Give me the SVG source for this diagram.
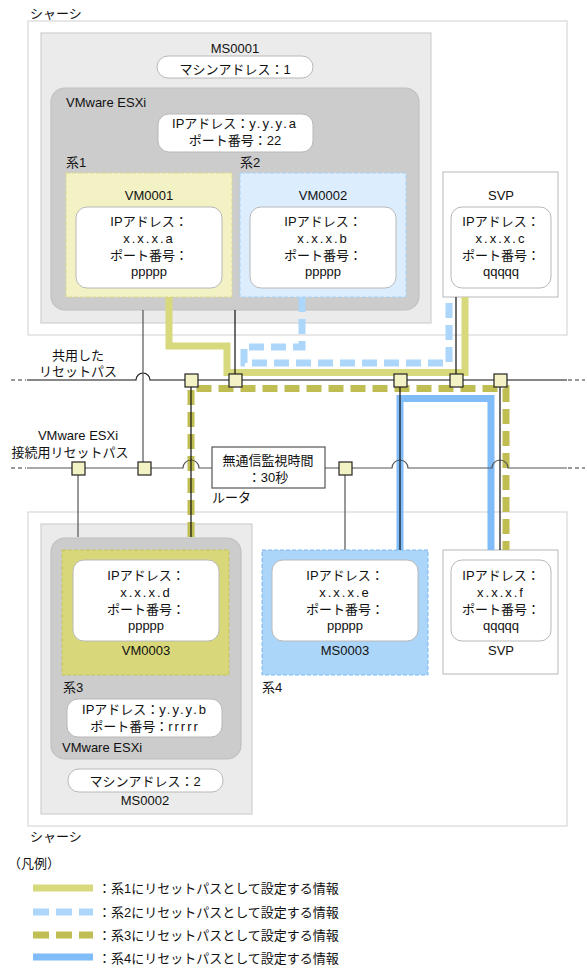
<svg xmlns="http://www.w3.org/2000/svg" width="587" height="969" viewBox="0 0 587 969">
<style>
text{font-family:"Liberation Sans","Noto Sans CJK JP",sans-serif;font-size:13px;fill:#111}
.c{text-anchor:middle}
.sp{letter-spacing:2px}
.chassis{fill:#fff;stroke:#d8d8d8;stroke-width:1.2}
.ms{fill:#ebebeb;stroke:#d0d0d0;stroke-width:1.2}
.esx{fill:#cccccc;stroke:#c0c0c0;stroke-width:1.2}
.pill{fill:#fff;stroke:#b8b8b8;stroke-width:1}
.svp{fill:#fff;stroke:#b8b8b8;stroke-width:1}
.vm1{fill:#f2f2c4;stroke:#dada90;stroke-dasharray:4 2}
.vm2{fill:#dcedfd;stroke:#a8d2f8;stroke-dasharray:4 2}
.vm3{fill:#d8d87a;stroke:#c4c45a;stroke-dasharray:4 2}
.ms3{fill:#acd5fa;stroke:#7db8f0;stroke-dasharray:4 2}
.p1{fill:none;stroke:#d8d87c;stroke-width:7}
.p2{fill:none;stroke:#acd6fa;stroke-width:7;stroke-dasharray:15 7}
.p3{fill:none;stroke:#c0bd52;stroke-width:7;stroke-dasharray:15 7}
.p4{fill:none;stroke:#7fbcf8;stroke-width:7}
.bl{fill:none;stroke:#111;stroke-width:1.2}
.gl{fill:none;stroke:#555;stroke-width:1.2}
.dd{fill:none;stroke:#333;stroke-width:1.2;stroke-dasharray:4 3}
.sq{fill:#f2f2c4;stroke:#222;stroke-width:1.2}
.rt{fill:#fff;stroke:#555;stroke-width:1.2}
</style>

<g id="chassis1">
<rect class="chassis" x="28" y="21" width="539" height="314"/>
<text x="30" y="18">シャーシ</text>
</g>
<g id="ms0001">
<rect class="ms" x="41" y="33" width="390" height="290"/>
<text class="c" x="235" y="53">MS0001</text>
<rect class="pill" x="157" y="56" width="156" height="22" rx="11"/>
<text class="c" x="235" y="74">マシンアドレス：1</text>
</g>
<g id="esxi1">
<rect class="esx" x="51" y="88" width="368" height="222" rx="14"/>
<text x="66" y="107">VMware ESXi</text>
<rect class="pill" x="158" y="114" width="155" height="38" rx="11"/>
<text class="c" x="235" y="128">IPアドレス：<tspan class="sp">y.y.y.a</tspan></text>
<text class="c" x="235" y="145">ポート番号：22</text>
<text x="66" y="167">系1</text>
<text x="240" y="167">系2</text>
</g>
<g id="vm0001">
<rect class="vm1" x="66" y="173" width="166" height="124"/>
<text class="c" x="149" y="200">VM0001</text>
<rect class="pill" x="76" y="207" width="146" height="81" rx="11"/>
<text class="c" x="149" y="226">IPアドレス：</text>
<text class="c sp" x="149" y="243">x.x.x.a</text>
<text class="c" x="149" y="260">ポート番号：</text>
<text class="c" x="149" y="276">ppppp</text>
</g>
<g id="vm0002">
<rect class="vm2" x="240" y="173" width="166" height="124"/>
<text class="c" x="323" y="200">VM0002</text>
<rect class="pill" x="250" y="207" width="146" height="81" rx="11"/>
<text class="c" x="323" y="226">IPアドレス：</text>
<text class="c sp" x="323" y="243">x.x.x.b</text>
<text class="c" x="323" y="260">ポート番号：</text>
<text class="c" x="323" y="276">ppppp</text>
</g>
<g id="svp1">
<rect class="svp" x="443" y="172" width="115" height="125"/>
<text class="c" x="501" y="200">SVP</text>
<rect class="pill" x="451" y="207" width="100" height="81" rx="11"/>
<text class="c" x="501" y="226">IPアドレス：</text>
<text class="c sp" x="501" y="243">x.x.x.c</text>
<text class="c" x="501" y="260">ポート番号：</text>
<text class="c" x="501" y="276">qqqqq</text>
</g>

<g id="chassis2">
<rect class="chassis" x="28" y="512" width="539" height="314"/>
<text x="30" y="841">シャーシ</text>
</g>
<g id="ms0002">
<rect class="ms" x="41" y="524" width="211" height="290"/>
<rect class="pill" x="68" y="769" width="155" height="23" rx="11"/>
<text class="c" x="145" y="786">マシンアドレス：2</text>
<text class="c" x="145" y="805">MS0002</text>
</g>
<g id="esxi2">
<rect class="esx" x="51" y="538" width="190" height="221" rx="14"/>
<text x="63" y="692">系3</text>
<rect class="pill" x="67" y="699" width="155" height="38" rx="11"/>
<text class="c" x="145" y="714">IPアドレス：<tspan class="sp">y.y.y.b</tspan></text>
<text class="c" x="145" y="731">ポート番号：<tspan class="sp">rrrrr</tspan></text>
<text x="62" y="752">VMware ESXi</text>
</g>
<g id="vm0003">
<rect class="vm3" x="62" y="550" width="167" height="125"/>
<rect class="pill" x="73" y="560" width="146" height="81" rx="11"/>
<text class="c" x="146" y="580">IPアドレス：</text>
<text class="c sp" x="146" y="597">x.x.x.d</text>
<text class="c" x="146" y="614">ポート番号：</text>
<text class="c" x="146" y="630">ppppp</text>
<text class="c" x="146" y="655">VM0003</text>
</g>
<g id="ms0003">
<rect class="ms3" x="262" y="550" width="166" height="125"/>
<rect class="pill" x="272" y="560" width="146" height="81" rx="11"/>
<text class="c" x="345" y="580">IPアドレス：</text>
<text class="c sp" x="345" y="597">x.x.x.e</text>
<text class="c" x="345" y="614">ポート番号：</text>
<text class="c" x="345" y="630">ppppp</text>
<text class="c" x="345" y="655">MS0003</text>
<text x="262" y="692">系4</text>
</g>
<g id="svp2">
<rect class="svp" x="443" y="550" width="115" height="124"/>
<rect class="pill" x="451" y="560" width="100" height="81" rx="11"/>
<text class="c" x="501" y="580">IPアドレス：</text>
<text class="c sp" x="501" y="597">x.x.x.f</text>
<text class="c" x="501" y="614">ポート番号：</text>
<text class="c" x="501" y="630">qqqqq</text>
<text class="c" x="501" y="655">SVP</text>
</g>

<g id="connectors">
<path class="p1" d="M169,297 V346 H227 V372.5 H465 V297"/>
<path class="p2" d="M302,297 V347 H244 V363 H449 V297"/>
<path class="p3" d="M191,537 V388.5 H506 V550"/>
<path class="p4" d="M400,550 V398.5 H491 V550"/>
<path class="bl" d="M27,380 H136 A7,7 0 0 1 150,380 H567"/>
<path class="dd" d="M11,380 H26 M568,380 H585"/>
<path class="gl" d="M27,468 H183 A8,8 0 0 1 199,468 H212 M325,468 H392 A8,8 0 0 1 408,468 H492 A8,8 0 0 1 508,468 H567"/>
<path class="dd" d="M11,468 H26 M568,468 H585"/>
<path class="gl" d="M143,310 V468 M78,468 V537 M345,468 V550"/>
<path class="bl" d="M235,310 V380 M456,297 V380 M191,380 V537 M400,380 V550 M500,380 V550"/>
</g>

<g id="labels">
<text class="c" x="78" y="360">共用した</text>
<text class="c" x="78" y="376">リセットパス</text>
<text class="c" x="78" y="440">VMware ESXi</text>
<text class="c" x="70" y="457">接続用リセットパス</text>
</g>

<g id="router">
<rect class="rt" x="212" y="447" width="113" height="41"/>
<text class="c" x="268" y="465">無通信監視時間</text>
<text class="c" x="268" y="482">：30秒</text>
<text x="212" y="502">ルータ</text>
</g>

<g id="switches">
<rect class="sq" x="185" y="374" width="13" height="13"/>
<rect class="sq" x="229" y="374" width="13" height="13"/>
<rect class="sq" x="394" y="374" width="13" height="13"/>
<rect class="sq" x="450" y="374" width="13" height="13"/>
<rect class="sq" x="494" y="374" width="13" height="13"/>
<rect class="sq" x="72" y="462" width="13" height="13"/>
<rect class="sq" x="138" y="462" width="13" height="13"/>
<rect class="sq" x="339" y="462" width="13" height="13"/>
</g>

<g id="legend">
<text x="8" y="868">（凡例）</text>
<line class="p1" x1="33" y1="888" x2="93" y2="888"/>
<line class="p2" x1="33" y1="912" x2="93" y2="912" style="stroke-dasharray:16 7"/>
<line class="p3" x1="33" y1="935" x2="93" y2="935" style="stroke-dasharray:16 7"/>
<line class="p4" x1="33" y1="957" x2="93" y2="957"/>
<text x="98" y="893">：系1にリセットパスとして設定する情報</text>
<text x="98" y="917">：系2にリセットパスとして設定する情報</text>
<text x="98" y="940">：系3にリセットパスとして設定する情報</text>
<text x="98" y="963">：系4にリセットパスとして設定する情報</text>
</g>
</svg>
